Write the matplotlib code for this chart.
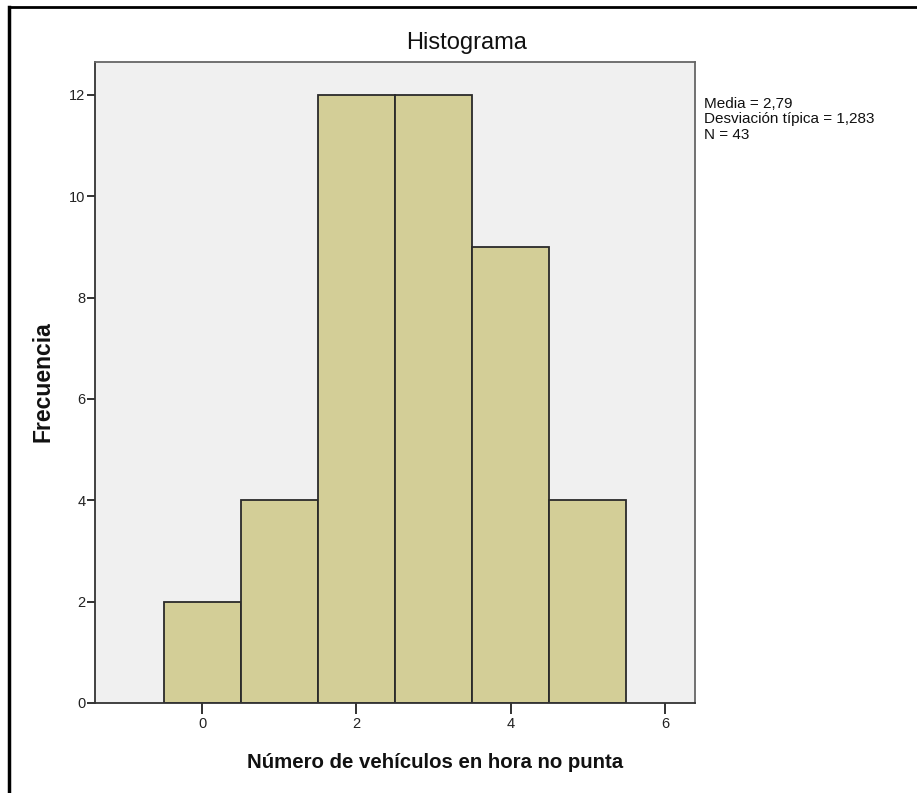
import numpy as np
from matplotlib import pyplot as plt
from matplotlib.lines import Line2D

# histogram data (counts per integer bin)
bin_centers = [0, 1, 2, 3, 4, 5]
counts = [2, 4, 12, 12, 9, 4]
x_ticks = [0, 2, 4, 6]
y_ticks = [0, 2, 4, 6, 8, 10, 12]
stats_lines = ["Media = 2,79", "Desviación típica = 1,283", "N = 43"]

plt.rcParams['font.family'] = ['Liberation Sans', 'DejaVu Sans']

W, H = 917, 793
fig = plt.figure(figsize=(W / 100, H / 100), dpi=100)

# axes box in pixels: left 95, right 695, top 62, bottom 703
ax = fig.add_axes([95 / W, 1 - 703 / H, (695 - 95) / W, (703 - 62) / H])
ax.set_facecolor('#F0F0F0')
ax.bar(bin_centers, counts, width=1.0, color='#D3CE97', edgecolor='#2A2A2A', linewidth=1.3, zorder=2)

ax.set_xlim(-1.39, 6.39)
ax.set_ylim(0, 12.65)
ax.set_xticks(x_ticks)
ax.set_yticks(y_ticks)
ax.tick_params(axis='x', direction='out', length=8, width=1.3, labelsize=10.5, colors='#222222', pad=2)
ax.tick_params(axis='y', direction='out', length=6, width=1.3, labelsize=10.5, colors='#222222', pad=1)
for s in ax.spines.values():
    s.set_color('#666666')
    s.set_linewidth(1.3)
ax.spines['bottom'].set_color('#333333')
ax.spines['left'].set_color('#333333')

# title and labels placed like the SPSS output
fig.text(467 / W, 1 - 43 / H, "Histograma", ha='center', va='center', fontsize=17, color='#111111')
fig.text(435 / W, 1 - 762 / H, "Número de vehículos en hora no punta", ha='center', va='center',
         fontsize=14.7, fontweight='bold', color='#111111')
fig.text(43 / W, 1 - 382 / H, "Frecuencia", ha='center', va='center', rotation=90,
         fontsize=16.5, fontweight='bold', color='#111111')

fig.text(704 / W, 1 - 97 / H, "\n".join(stats_lines), ha='left', va='top',
         fontsize=11, linespacing=1.12, color='#111111')

# outer frame (top and left edges visible)
fig.add_artist(Line2D([9 / W, 1], [1 - 7 / H, 1 - 7 / H], color='black', linewidth=2))
fig.add_artist(Line2D([9 / W, 9 / W], [0, 1 - 7 / H], color='black', linewidth=2.5))

fig.savefig('out.png', dpi=100)
